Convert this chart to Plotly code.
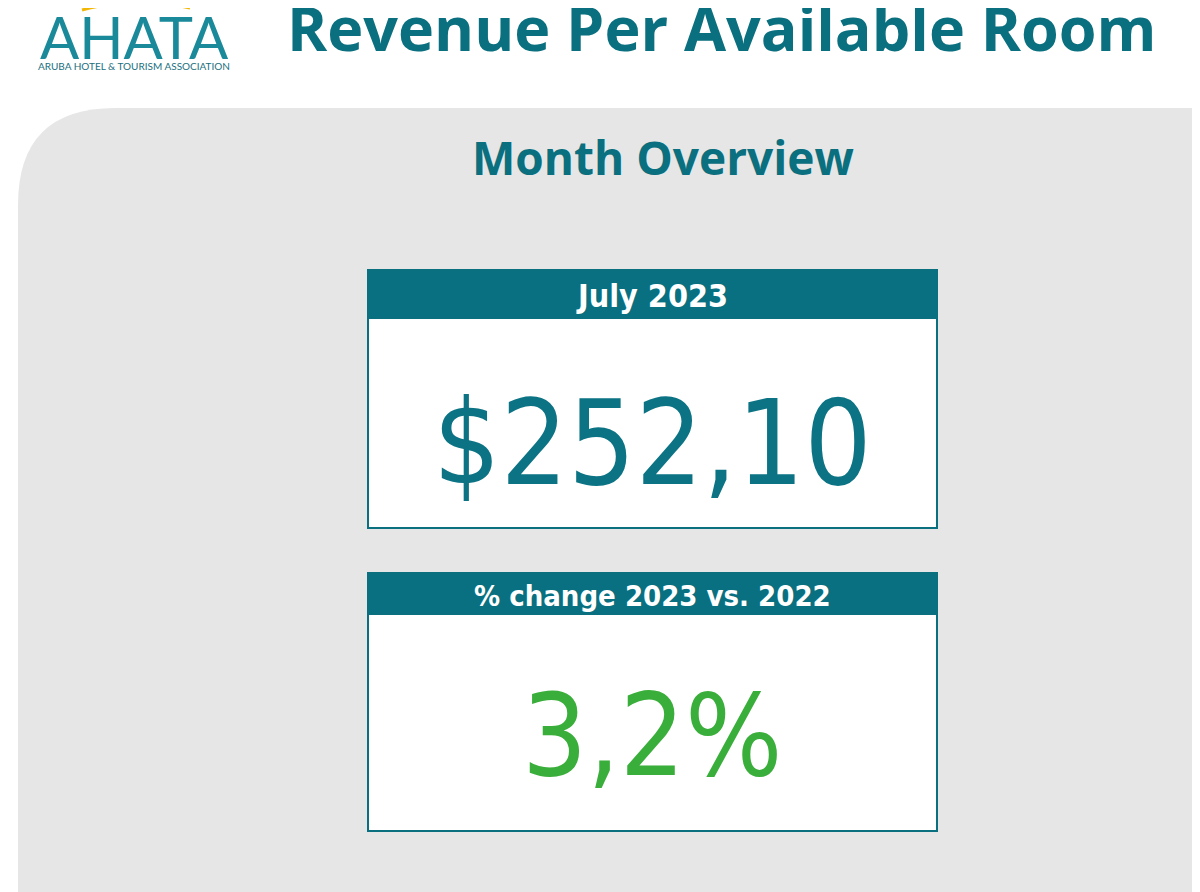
import plotly.graph_objects as go

title = "Revenue Per Available Room"
section = "Month Overview"
card_headers = ["July 2023", "% change 2023 vs. 2022"]
card_values = ["$252,10", "3,2%"]
card_colors = ["#0b7384", "#3aae3a"]

TEAL = "#0a6f7e"
W, H = 1200, 892
OFF = 8  # page body margin

fig = go.Figure()
shapes = []
ann = []

# gray panel with rounded top-left corner
shapes.append(dict(type="path", path="M 18,900 L 18,205 Q 18,108 115,108 L 1210,108 L 1210,900 Z",
                   fillcolor="#e6e6e6", line=dict(width=0), layer="below"))

# logo
shapes.append(dict(type="path", path="M 82,10 Q 135,-4 190,8", line=dict(color="#f2b705", width=3)))
ann.append(dict(x=134, y=36, text="AHATA", font=dict(family="Lato", size=58, color="#1a8a9a"),
                showarrow=False))
ann.append(dict(x=134, y=66, text="ARUBA HOTEL & TOURISM ASSOCIATION",
                font=dict(family="Lato", size=10, color="#1a6f7e"), showarrow=False))

ann.append(dict(x=722, y=27, text="<b>" + title + "</b>", font=dict(family="Open Sans", size=61, color=TEAL),
                showarrow=False))
ann.append(dict(x=663, y=157, text="<b>" + section + "</b>", font=dict(family="Open Sans", size=46, color=TEAL),
                showarrow=False))

cards = [(270, 318, 528, 443, 118, 32), (573, 614, 831, 735, 114, 29)]
for (top, hdr, bot, vy, vs, hs), h, v, c in zip(cards, card_headers, card_values, card_colors):
    shapes.append(dict(type="rect", x0=368, x1=937, y0=top, y1=bot, fillcolor="white",
                       line=dict(color=TEAL, width=2)))
    shapes.append(dict(type="rect", x0=368, x1=937, y0=top, y1=hdr, fillcolor="#087080",
                       line=dict(color=TEAL, width=2)))
    ann.append(dict(x=652, y=(top + hdr) / 2 + 2, text="<b>" + h + "</b>", showarrow=False,
                    font=dict(family="DejaVu Sans Condensed", size=hs, color="white")))
    ann.append(dict(x=652, y=vy, text=v, showarrow=False,
                    font=dict(family="DejaVu Sans Condensed", size=vs, color=c)))

for a in ann:
    a.update(xref="x", yref="y")
for s in shapes:
    s.update(xref="x", yref="y")

fig.update_layout(width=W, height=H, margin=dict(l=0, r=0, t=0, b=0),
                  paper_bgcolor="white", plot_bgcolor="white",
                  shapes=shapes, annotations=ann, showlegend=False,
                  xaxis=dict(range=[OFF, W + OFF], visible=False, fixedrange=True),
                  yaxis=dict(range=[H + OFF, OFF], visible=False, fixedrange=True))
fig.write_html("out.html")
